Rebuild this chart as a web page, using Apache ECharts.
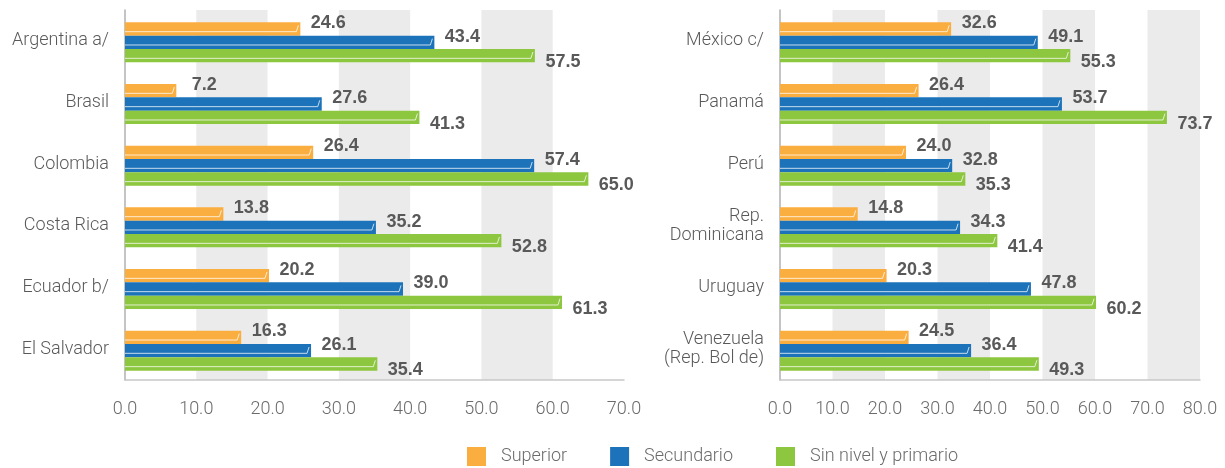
<!DOCTYPE html>
<html>
<head>
<meta charset="utf-8">
<script src="https://cdn.jsdelivr.net/npm/echarts@6/dist/echarts.min.js"></script>
<style>
  html, body { margin: 0; padding: 0; background: #fff; }
  #chart { width: 1225px; height: 468px; }
</style>
</head>
<body>
<div id="chart"></div>
<script>
// Categories for each panel
const leftCategories = ['Argentina a/', 'Brasil', 'Colombia', 'Costa Rica', 'Ecuador b/', 'El Salvador'];
const rightCategories = ['México c/', 'Panamá', 'Perú', 'Rep.\nDominicana', 'Uruguay', 'Venezuela\n(Rep. Bol de)'];

// Series names
const seriesNames = ['Superior', 'Secundario', 'Sin nivel y primario'];

// Left panel values
const leftSuperior = [24.6, 7.2, 26.4, 13.8, 20.2, 16.3];
const leftSecundario = [43.4, 27.6, 57.4, 35.2, 39.0, 26.1];
const leftPrimario = [57.5, 41.3, 65.0, 52.8, 61.3, 35.4];

// Right panel values
const rightSuperior = [32.6, 26.4, 24.0, 14.8, 20.3, 24.5];
const rightSecundario = [49.1, 53.7, 32.8, 34.3, 47.8, 36.4];
const rightPrimario = [55.3, 73.7, 35.3, 41.4, 60.2, 49.3];

const COLORS = ['#FBAE40', '#1C73BA', '#8DC63F'];
const LABEL_DY = [-6, -5.5, 6.5];
const BAR_FRAC = 0.216;
const TEXT_FONT = 'Roboto, "Noto Sans", sans-serif';

function makeRender(k) {
  return function (params, api) {
    const v = api.value(0);
    const c = api.value(1);
    const p0 = api.coord([0, c]);
    const p1 = api.coord([v, c]);
    const band = api.size([0, 1])[1];
    const h = band * BAR_FRAC;
    const top = p0[1] - 1.5 * h + k * h + 1.5;
    const x0 = p0[0];
    const xe = p1[0];
    const yb = top + h - 4;
    const yt = top + 3;
    return {
      type: 'group',
      children: [
        {
          type: 'rect',
          shape: { x: x0, y: top, width: xe - x0, height: h },
          style: { fill: COLORS[k] }
        },
        {
          type: 'polyline',
          shape: { points: [[x0, yb], [xe - 4, yb], [xe - 2, yt]] },
          style: { stroke: 'rgba(255,255,255,0.75)', lineWidth: 1, fill: null }
        },
        {
          type: 'text',
          x: xe + 28,
          y: top + h / 2 + LABEL_DY[k],
          style: {
            text: v.toFixed(1),
            fill: '#595959',
            font: 'bold 18px "Liberation Sans", Arial, sans-serif',
            align: 'center',
            verticalAlign: 'middle'
          }
        }
      ]
    };
  };
}

function toData(arr) {
  return arr.map((v, i) => [v, i]);
}

function panelSeries(gridIndex, arrays) {
  return arrays.map((arr, k) => ({
    name: seriesNames[k],
    type: 'custom',
    xAxisIndex: gridIndex,
    yAxisIndex: gridIndex,
    renderItem: makeRender(k),
    itemStyle: { color: COLORS[k] },
    encode: { x: 0, y: 1 },
    data: toData(arr),
    z: 3
  }));
}

function xAxisFor(gridIndex, max) {
  return {
    type: 'value',
    gridIndex: gridIndex,
    min: 0,
    max: max,
    interval: 10,
    axisLine: { show: true, lineStyle: { color: '#c8c8c8', width: 1.5 } },
    axisTick: { show: false },
    splitLine: { show: false },
    splitArea: { show: true, areaStyle: { color: ['rgba(255,255,255,0)', '#EBEBEB'] } },
    axisLabel: {
      formatter: (val) => val.toFixed(1),
      color: '#6b6b6b',
      fontSize: 18,
      fontFamily: TEXT_FONT,
      fontWeight: 300,
      margin: 20
    }
  };
}

function yAxisFor(gridIndex, cats) {
  return {
    type: 'category',
    gridIndex: gridIndex,
    data: cats,
    inverse: true,
    axisLine: { show: true, lineStyle: { color: '#b0b0b0', width: 1.5 } },
    axisTick: { show: false },
    axisLabel: {
      color: '#595959',
      fontSize: 18,
      fontFamily: TEXT_FONT,
      fontWeight: 300,
      margin: 16,
      lineHeight: 19,
      padding: [5, 0, 0, 0],
      align: 'right'
    }
  };
}

const chart = echarts.init(document.getElementById('chart'), null, { renderer: 'canvas' });

chart.setOption({
  animation: false,
  backgroundColor: '#ffffff',
  grid: [
    { left: 125, top: 10, width: 499, height: 370 },
    { left: 780, top: 10, width: 420, height: 370 }
  ],
  xAxis: [xAxisFor(0, 70), xAxisFor(1, 80)],
  yAxis: [yAxisFor(0, leftCategories), yAxisFor(1, rightCategories)],
  legend: {
    data: seriesNames,
    left: 467,
    top: 447,
    padding: 0,
    itemWidth: 19,
    itemHeight: 19,
    itemGap: 43,
    icon: 'rect',
    textStyle: {
      color: '#6b6b6b',
      fontSize: 18,
      fontFamily: TEXT_FONT,
      fontWeight: 300,
      padding: [0, 0, 0, 10]
    }
  },
  series: [
    ...panelSeries(0, [leftSuperior, leftSecundario, leftPrimario]),
    ...panelSeries(1, [rightSuperior, rightSecundario, rightPrimario])
  ]
});
</script>
</body>
</html>
